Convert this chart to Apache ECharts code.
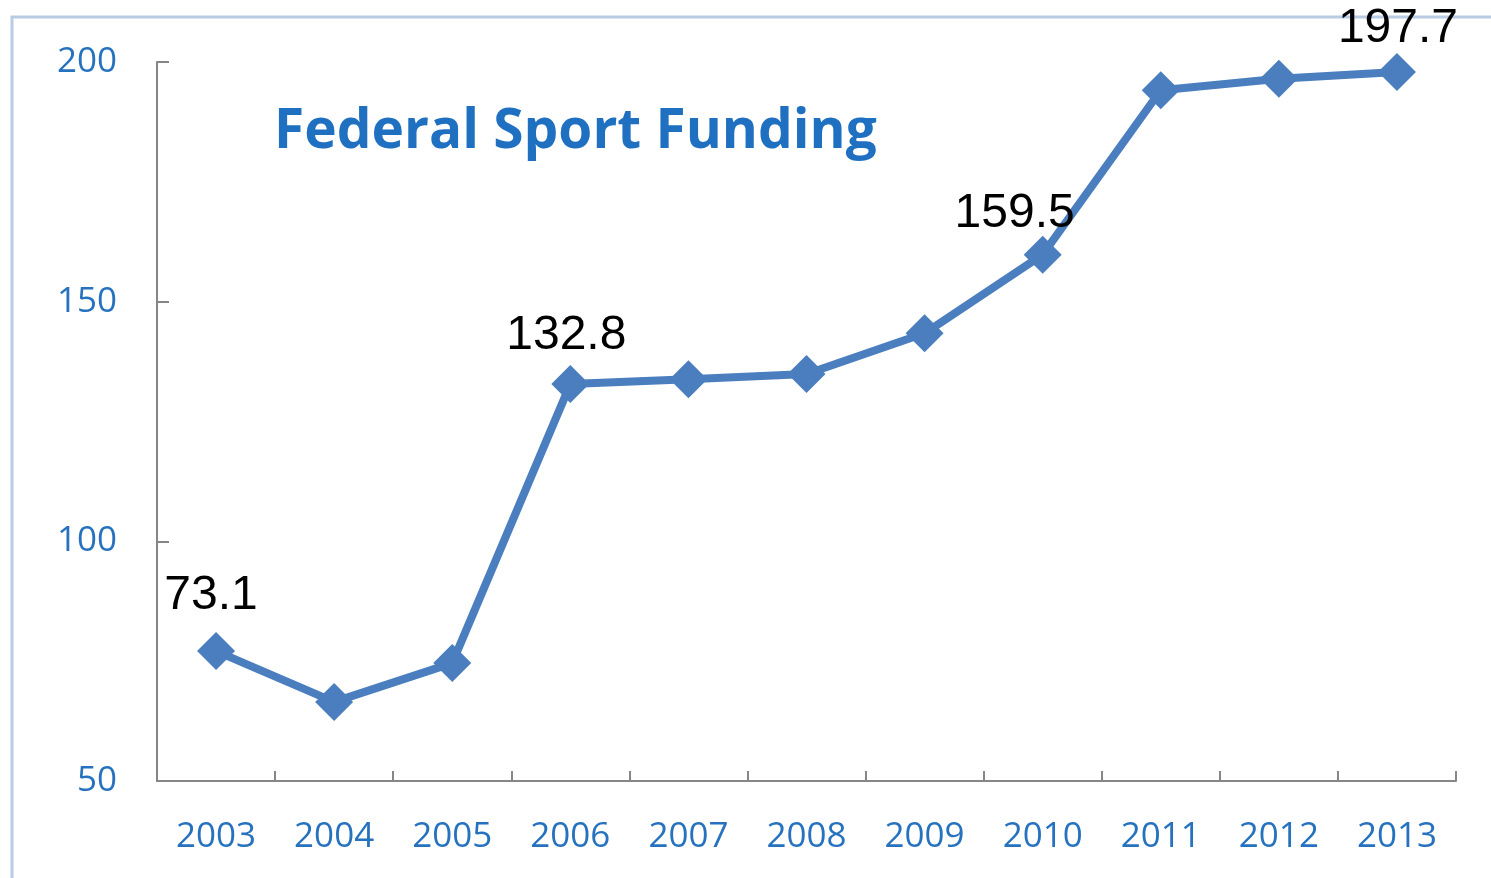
<!DOCTYPE html>
<html>
<head>
<meta charset="utf-8">
<script src="https://cdn.jsdelivr.net/npm/echarts@6/dist/echarts.min.js"></script>
<style>
html,body{margin:0;padding:0;background:#fff;}
#chart{width:1491px;height:878px;}
</style>
</head>
<body>
<div id="chart"></div>
<script>
// ---- data ----
const years = ['2003','2004','2005','2006','2007','2008','2009','2010','2011','2012','2013'];
const funding = [77.1, 66.5, 74.6, 132.8, 133.8, 134.9, 143.4, 159.8, 194.1, 196.5, 197.9];
const pointLabels = ['73.1', '', '', '132.8', '', '', '', '159.5', '', '', '197.7'];
const yTicks = [50, 100, 150, 200];
const titleText = 'Federal Sport Funding';

// label placement (style, not data)
const labelOffsets = {0: [-5, -12], 3: [-4, -5], 7: [-28, 2], 10: [1, 0]};

const blue = '#4A7EBF';
const axisTextColor = '#2672BE';

const seriesData = funding.map((v, i) => {
  const item = {value: v};
  if (pointLabels[i]) {
    item.label = {show: true, formatter: pointLabels[i], offset: labelOffsets[i] || [0, 0]};
  }
  return item;
});

const chart = echarts.init(document.getElementById('chart'), null, {renderer: 'canvas'});
chart.setOption({
  backgroundColor: '#ffffff',
  animation: false,
  title: {
    text: titleText,
    left: 269,
    top: 100,
    textStyle: {
      fontFamily: 'Open Sans',
      fontWeight: 'bold',
      fontSize: 55,
      color: '#1F70C1'
    }
  },
  grid: {left: 157, right: 35, top: 62, bottom: 97, containLabel: false},
  xAxis: {
    type: 'category',
    data: years,
    boundaryGap: true,
    axisLine: {show: true, lineStyle: {color: '#868686', width: 2}},
    axisTick: {show: true, inside: true, length: 10, alignWithLabel: false, lineStyle: {color: '#868686', width: 2}},
    axisLabel: {
      show: true,
      margin: 39,
      color: axisTextColor,
      fontFamily: 'Open Sans',
      fontSize: 35
    },
    splitLine: {show: false}
  },
  yAxis: {
    type: 'value',
    min: yTicks[0],
    max: yTicks[yTicks.length - 1],
    interval: yTicks[1] - yTicks[0],
    axisLine: {show: true, lineStyle: {color: '#868686', width: 2}},
    axisTick: {show: true, inside: true, length: 12, lineStyle: {color: '#868686', width: 2}},
    axisLabel: {
      margin: 40,
      color: axisTextColor,
      fontFamily: 'Open Sans',
      fontSize: 35
    },
    splitLine: {show: false}
  },
  graphic: [{
    type: 'rect',
    shape: {x: 12, y: 17, width: 1600, height: 1000},
    style: {fill: 'none', stroke: '#B8CCE4', lineWidth: 3},
    silent: true,
    z: -10
  }],
  series: [{
    type: 'line',
    data: seriesData,
    symbol: 'diamond',
    symbolSize: 38,
    lineStyle: {color: blue, width: 8},
    itemStyle: {color: blue},
    label: {
      show: false,
      position: 'top',
      distance: 0,
      color: '#000000',
      fontFamily: 'Liberation Sans, Arial',
      fontSize: 48
    }
  }]
});
</script>
</body>
</html>
